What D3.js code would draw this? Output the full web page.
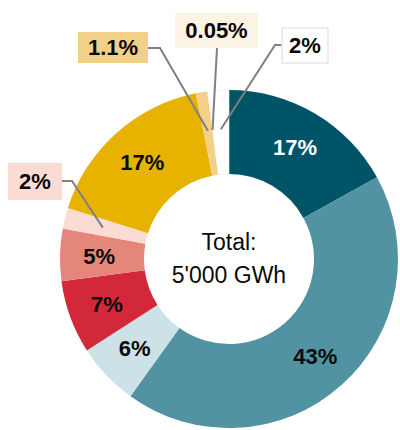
<!DOCTYPE html>
<html>
<head>
<meta charset="utf-8">
<script src="https://cdn.jsdelivr.net/npm/d3@7"></script>
<style>
  body { margin: 0; background: #fff; }
  svg text { font-family: "Liberation Sans", Arial, sans-serif; }
</style>
</head>
<body>
<div id="chart"></div>
<script>
// slices, clockwise from 12 o'clock
const shares = [17, 43, 6, 7, 5, 2, 17, 1.1, 0.05, 2];
const labels = ["17%", "43%", "6%", "7%", "5%", "2%", "17%", "1.1%", "0.05%", "2%"];
const colors = ["#005468", "#5193a2", "#cde2e7", "#d22839", "#e5867b",
                "#fadcd5", "#e8b200", "#f2d088", "#fbf3e4", "#ffffff"];
const labelColors = ["#ffffff", "#0a0a0a", "#0a0a0a", "#0a0a0a", "#0a0a0a",
                     "#0a0a0a", "#0a0a0a", "#0a0a0a", "#0a0a0a", "#0a0a0a"];
const centerLines = ["Total:", "5'000 GWh"];

// callouts for the thin slices: box + elbow of the leader line
const callouts = [
  { i: 5, box: [8, 163, 54, 37], from: [62, 181], elbow: [72, 181] },
  { i: 7, box: [78, 32, 70, 31], from: [148, 48], elbow: [160, 48] },
  { i: 8, box: [175, 13, 83, 35], from: [217, 48], elbow: null },
  { i: 9, box: [282, 28, 46, 35], from: [282, 45], elbow: [275, 45], border: "#e6e6e6" }
];

var width = 400, height = 430;
var cx = 229, cy = 259, outerR = 169, innerR = 85, labelR = 130;

var svg = d3.select('#chart').append('svg')
  .attr('width', width)
  .attr('height', height);

var pie = d3.pie().sort(null).value(function(d) { return d; });
var arcs = pie(shares);

var arc = d3.arc().innerRadius(innerR).outerRadius(outerR);
var labelArc = d3.arc().innerRadius(labelR).outerRadius(labelR);

var g = svg.append('g')
  .attr('transform', 'translate(' + cx + ',' + cy + ')');

g.selectAll('path')
  .data(arcs)
  .enter().append('path')
    .attr('d', arc)
    .attr('fill', function(d, i) { return colors[i]; })
    .attr('stroke', function(d, i) { return i == 9 ? '#eeeeee' : 'none'; })
    .attr('stroke-width', 0.6);

// labels inside the bigger slices
var calloutIdx = callouts.map(function(c) { return c.i; });
g.selectAll('text.inner')
  .data(arcs.filter(function(d) { return calloutIdx.indexOf(d.index) < 0; }))
  .enter().append('text')
    .attr('class', 'inner')
    .attr('transform', function(d) { return 'translate(' + labelArc.centroid(d) + ')'; })
    .attr('text-anchor', 'middle')
    .attr('dy', '0.36em')
    .attr('font-size', 22)
    .attr('font-weight', 'bold')
    .attr('fill', function(d) { return labelColors[d.index]; })
    .text(function(d) { return labels[d.index]; });

// leader lines + boxes
callouts.forEach(function(c) {
  var p = labelArc.centroid(arcs[c.i]);
  var end = [p[0] + cx, p[1] + cy];
  var pts = [c.from];
  if (c.elbow) pts.push(c.elbow);
  pts.push(end);
  svg.append('path')
    .attr('d', d3.line()(pts))
    .attr('fill', 'none')
    .attr('stroke', '#808080')
    .attr('stroke-width', 2);

  var b = c.box;
  svg.append('rect')
    .attr('x', b[0]).attr('y', b[1])
    .attr('width', b[2]).attr('height', b[3])
    .attr('fill', c.i == 9 ? '#ffffff' : colors[c.i])
    .attr('stroke', c.border || 'none')
    .attr('stroke-width', 1.5);
  svg.append('text')
    .attr('x', b[0] + b[2] / 2)
    .attr('y', b[1] + b[3] / 2)
    .attr('dy', '0.36em')
    .attr('text-anchor', 'middle')
    .attr('font-size', 22)
    .attr('font-weight', 'bold')
    .attr('fill', '#0a0a0a')
    .text(labels[c.i]);
});

// centre text
g.selectAll('text.center')
  .data(centerLines)
  .enter().append('text')
    .attr('class', 'center')
    .attr('x', 0)
    .attr('y', function(d, i) { return -9 + i * 33; })
    .attr('text-anchor', 'middle')
    .attr('font-size', 23)
    .attr('fill', '#0a0a0a')
    .text(function(d) { return d; });
</script>
</body>
</html>
